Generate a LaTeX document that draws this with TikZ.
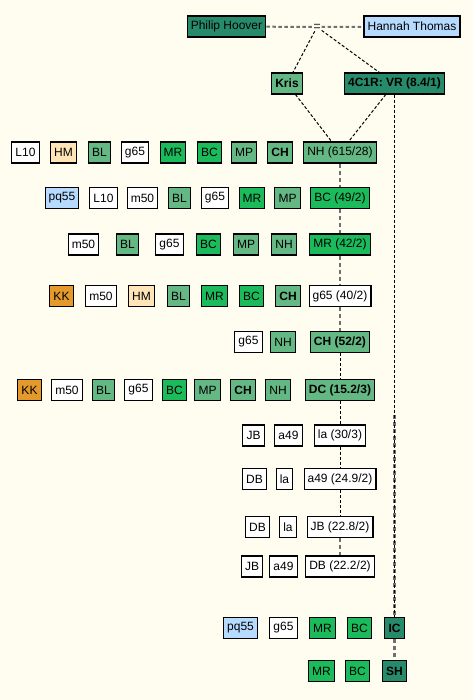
\documentclass[tikz,border=0pt]{standalone}
\usepackage{fontspec}
\setmainfont{Liberation Sans}
\usepackage{xcolor}
\usepackage{tikz}
\definecolor{PHDark}{HTML}{278B6B}
\definecolor{PHMid}{HTML}{64B883}
\definecolor{PHBright}{HTML}{1BBB5B}
\definecolor{PHBlue}{HTML}{B7DBFF}
\definecolor{PHPeach}{HTML}{FFE4B8}
\definecolor{PHOrange}{HTML}{E39A2B}
\definecolor{PHBack}{HTML}{FFFDF0}
\definecolor{PHLine}{HTML}{707070}
\tikzset{
  fam/.style={draw=black,line width=1.1pt,minimum height=21pt,inner xsep=3.6pt,inner ysep=0pt,
    font=\fontsize{12}{14}\selectfont},
  wbox/.style={fam,fill=white},
  mbox/.style={fam,fill=PHMid},
  gbox/.style={fam,fill=PHBright},
  dbox/.style={fam,fill=PHDark},
  bbox/.style={fam,fill=PHBlue},
  pbox/.style={fam,fill=PHPeach},
  obox/.style={fam,fill=PHOrange},
  spouse/.style={PHLine,line width=2pt,dash pattern=on 3.5pt off 2.5pt},
  kid/.style={black,line width=1pt,dash pattern=on 3pt off 2pt},
  lin/.style={PHLine,line width=2.4pt,dash pattern=on 4pt off 3pt}
}

\begin{document}
\begin{tikzpicture}[x=1pt,y=1pt]
\fill[PHBack] (0,0) rectangle (473,700);
\path[use as bounding box] (0,0) rectangle (473,700);
% parents
\node[dbox] (philip) at (226.5,673.5) {Philip Hoover};
\node[font=\fontsize{12}{14}\bfseries,text=black!65,inner sep=1pt] (marr) at (317,673) {=};
\node[bbox] (hannah) at (412,673.5) {Hannah Thomas};
\node[mbox] (kris) at (287,616.5) {\textbf{Kris}};
\node[dbox] (vr) at (394.5,616.5) {\textbf{4C1R: VR (8.4/1)}};
% row 1
\node[wbox] (a1) at (25.5,547.5) {L10};
\node[pbox] (a2) at (63.5,547.5) {HM};
\node[mbox] (a3) at (99.5,547.5) {BL};
\node[wbox] (a4) at (135,547.5) {g65};
\node[gbox] (a5) at (173,547.5) {MR};
\node[gbox] (a6) at (209.5,547.5) {BC};
\node[mbox] (a7) at (244,547.5) {MP};
\node[mbox] (a8) at (280,547.5) {\textbf{CH}};
\node[mbox] (nh) at (340,547.5) {NH (615/28)};
% row 2
\node[bbox] (b1) at (62,502) {pq55};
\node[wbox] (b2) at (103.5,502) {L10};
\node[wbox] (b3) at (142.5,502) {m50};
\node[mbox] (b4) at (179.5,502) {BL};
\node[wbox] (b5) at (215,502) {g65};
\node[gbox] (b6) at (252,502) {MR};
\node[mbox] (b7) at (287.5,502) {MP};
\node[gbox] (bc) at (340,502) {BC (49/2)};
% row 3
\node[wbox] (c1) at (83.5,455.5) {m50};
\node[mbox] (c2) at (127.5,455.5) {BL};
\node[wbox] (c3) at (169.5,455.5) {g65};
\node[gbox] (c4) at (208.5,455.5) {BC};
\node[mbox] (c5) at (246,455.5) {MP};
\node[mbox] (c6) at (284,455.5) {NH};
\node[gbox] (mr) at (340,455.5) {MR (42/2)};
% row 4
\node[obox] (d1) at (61.5,404) {KK};
\node[wbox] (d2) at (101,404) {m50};
\node[pbox] (d3) at (141.5,404) {HM};
\node[mbox] (d4) at (178.5,404) {BL};
\node[gbox] (d5) at (214.5,404) {MR};
\node[gbox] (d6) at (251.5,404) {BC};
\node[mbox] (d7) at (288,404) {\textbf{CH}};
\node[wbox] (gs) at (340,404) {g65 (40/2)};
% row 5
\node[wbox] (e1) at (248.5,358) {g65};
\node[mbox] (e2) at (283,358) {NH};
\node[mbox] (ch) at (340,358) {\textbf{CH (52/2)}};
% row 6
\node[obox] (f1) at (29.5,310) {KK};
\node[wbox] (f2) at (67,310) {m50};
\node[mbox] (f3) at (103.5,310) {BL};
\node[wbox] (f4) at (138.5,310) {g65};
\node[gbox] (f5) at (174.5,310) {BC};
\node[mbox] (f6) at (207.5,310) {MP};
\node[mbox] (f7) at (243,310) {\textbf{CH}};
\node[mbox] (f8) at (278,310) {NH};
\node[mbox] (dc) at (340,310) {\textbf{DC (15.2/3)}};
% rows 7 to 10
\node[wbox] (g1) at (253.5,264.5) {JB};
\node[wbox] (g2) at (288.5,264.5) {a49};
\node[wbox] (la) at (340,264.5) {la (30/3)};
\node[wbox] (h1) at (254.5,221) {DB};
\node[wbox] (h2) at (284.5,221) {la};
\node[wbox] (aa) at (340,221) {a49 (24.9/2)};
\node[wbox] (i1) at (257.5,173) {DB};
\node[wbox] (i2) at (288,173) {la};
\node[wbox] (jb) at (340,173) {JB (22.8/2)};
\node[wbox] (j1) at (252,133.5) {JB};
\node[wbox] (j2) at (283.5,133.5) {a49};
\node[wbox] (db) at (340,133.5) {DB (22.2/2)};
% rows 11 and 12
\node[bbox] (k1) at (240.5,72) {pq55};
\node[wbox] (k2) at (283.5,72) {g65};
\node[gbox] (k3) at (322.5,72) {MR};
\node[gbox] (k4) at (359.5,72) {BC};
\node[dbox] (ic) at (394.5,72) {\textbf{IC}};
\node[gbox] (l1) at (321.5,29) {MR};
\node[gbox] (l2) at (357.5,29) {BC};
\node[dbox] (sh) at (394.5,29) {\textbf{SH}};
\coordinate (icup) at (394.5,285);
% connectors
\draw[spouse] (philip) -- (marr);
\draw[spouse] (marr) -- (hannah);
\draw[kid] (marr) -- (kris);
\draw[kid] (marr) -- (vr);
\draw[kid] (kris) -- (nh);
\draw[kid] (vr) -- (nh);
\draw[lin] (nh) -- (bc);
\draw[lin] (bc) -- (mr);
\draw[lin] (mr) -- (gs);
\draw[lin] (gs) -- (ch);
\draw[kid] (ch) -- (dc);
\draw[kid] (dc) -- (la);
\draw[kid] (la) -- (aa);
\draw[kid] (aa) -- (jb);
\draw[lin] (jb) -- (db);
\draw[lin] (icup) -- (ic);
\draw[kid] (vr) -- (ic);
\draw[lin] (ic) -- (sh);
\end{tikzpicture}
\end{document}
